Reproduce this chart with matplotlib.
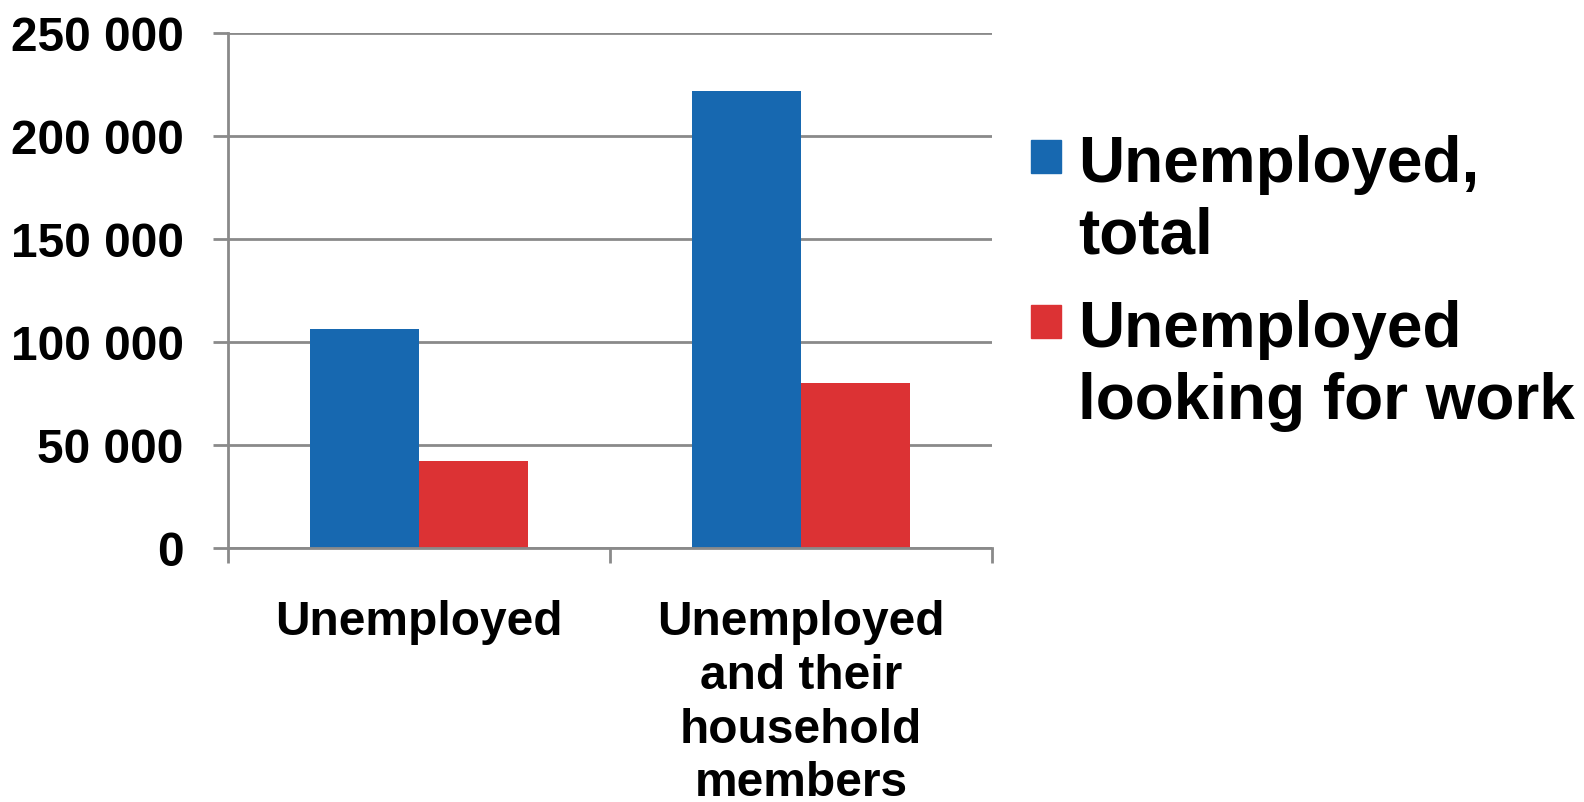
import numpy as np
import matplotlib
matplotlib.use("Agg")
import matplotlib.pyplot as plt
from matplotlib.patches import Rectangle
from matplotlib.ticker import FuncFormatter, FixedLocator

categories = ["Unemployed", "Unemployed\nand their\nhousehold\nmembers"]
series_names = ["Unemployed,\ntotal", "Unemployed\nlooking for work"]
unemployed_total = [106000, 221800]
looking_for_work = [41900, 80150]
y_ticks = [0, 50000, 100000, 150000, 200000, 250000]

colors = ["#1768B0", "#DC3234"]
grid_color = "#8A8A8A"

plt.rcParams["font.family"] = ["Liberation Sans", "DejaVu Sans"]
plt.rcParams["font.weight"] = "bold"

W, H = 1584, 803
fig = plt.figure(figsize=(W / 100, H / 100), dpi=100)
ax = fig.add_axes([228 / W, 1 - 548.7 / H, (992 - 228) / W, (548.7 - 33.7) / H])

x = np.arange(len(categories))
width = 0.285
ax.bar(x - width / 2, unemployed_total, width, color=colors[0], zorder=3)
ax.bar(x + width / 2, looking_for_work, width, color=colors[1], zorder=3)

ax.set_xlim(-0.5, len(categories) - 0.5)
ax.set_ylim(0, 250000)
ax.set_yticks(y_ticks)
ax.yaxis.set_major_formatter(FuncFormatter(lambda v, p: f"{int(v):,}".replace(",", " ")))
ax.grid(axis="y", color=grid_color, linewidth=2.0, zorder=0)
ax.set_axisbelow(True)

ax.set_xticks(x)
ax.set_xticklabels(categories, fontsize=34.5, fontweight="bold", linespacing=1.25)
ax.xaxis.set_minor_locator(FixedLocator(np.arange(-0.5, len(categories), 1.0)))
ax.tick_params(axis="x", which="major", length=0, pad=37)
ax.tick_params(axis="x", which="minor", length=11, width=2.0, color=grid_color)
ax.tick_params(axis="y", which="major", length=11, width=2.0, color=grid_color,
               labelsize=34.5, pad=21)

for s in ["top", "right"]:
    ax.spines[s].set_visible(False)
for s in ["left", "bottom"]:
    ax.spines[s].set_color(grid_color)
    ax.spines[s].set_linewidth(2.0)
    ax.spines[s].set_zorder(4)

# legend drawn by hand so the square sits on the first text line
first_baselines = [181, 346]
last_baselines = [254, 419]
for name, col, b1, b2 in zip(series_names, colors, first_baselines, last_baselines):
    fig.add_artist(Rectangle((1031 / W, 1 - (b1 - 7) / H), 30 / W, 33 / H,
                             transform=fig.transFigure, color=col))
    fig.text(1078 / W, 1 - b2 / H, name, fontsize=46, fontweight="bold",
             va="baseline", ha="left", linespacing=1.25)

fig.savefig("out.png", dpi=100)
